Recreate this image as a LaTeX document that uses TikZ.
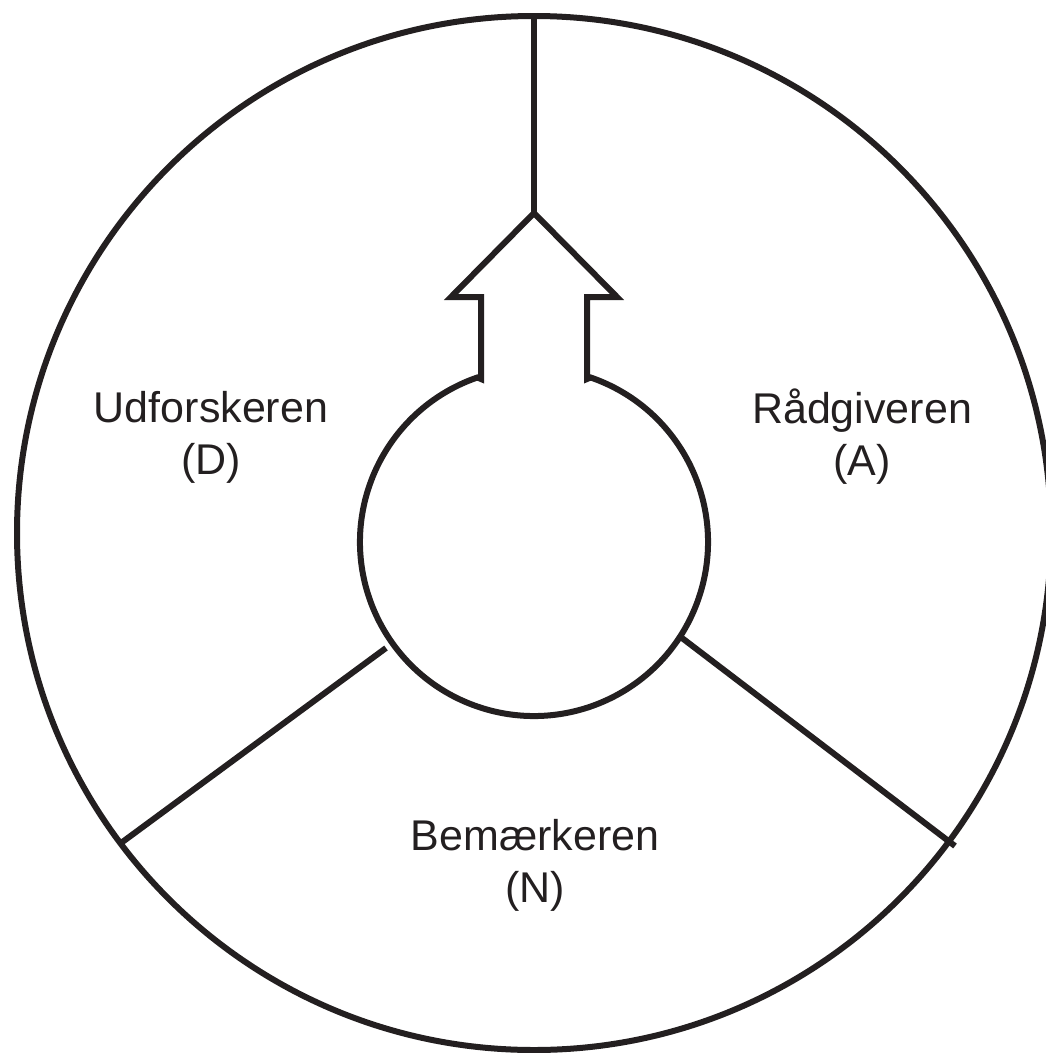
\documentclass[tikz,border=0pt]{standalone}
\usepackage{fontspec}
\setmainfont{Liberation Sans}
\usetikzlibrary{calc}
\definecolor{ink}{HTML}{231F20}
\begin{document}
\begin{tikzpicture}[x=1pt,y=-1pt,
  outline/.style={draw=ink,line width=6pt,line join=miter},
  label/.style={font=\fontsize{43}{52}\selectfont,text=ink,align=center,inner sep=0pt}]
\useasboundingbox (0,0) rectangle (1046,1053);
% outer circle
\coordinate (oc) at (534,533);
\draw[outline] (oc) circle[radius=517];
% spoke end points
\coordinate (lo) at (121,843);
\coordinate (li) at (386,648);
\coordinate (ro) at (955,846);
\coordinate (ri) at (682,638);
\draw[outline] (lo) -- (li);
\draw[outline] (ro) -- (ri);
% top line
\coordinate (top) at (534,16);
\coordinate (tip) at (534,213);
\draw[outline] (top) -- (tip);
% flask shaped figure
\coordinate (ic) at (534,542);
\draw[outline,fill=white] (481,379) -- (481,297) -- (451,297) -- (tip) -- (617,297) -- (587,297) -- (587,379)
  -- ($(ic)+(-71:174)$) arc[start angle=-71,end angle=251,radius=174] -- cycle;
% labels
\node[label] (d) at (211,437) {Udforskeren\\(D)};
\node[label] (a) at (862,437) {Rådgiveren\\(A)};
\node[label] (n) at (535,865) {Bemærkeren\\(N)};
\end{tikzpicture}
\end{document}
